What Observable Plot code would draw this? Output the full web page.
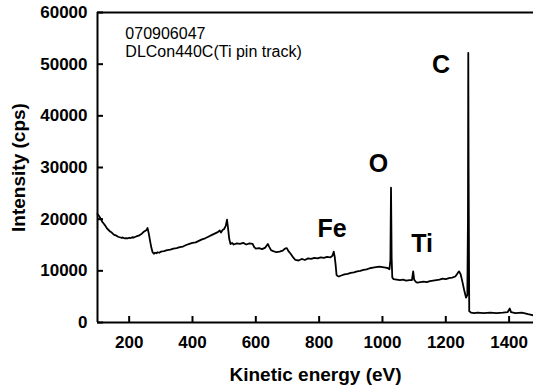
<!DOCTYPE html>
<html>
<head>
<meta charset="utf-8">
<script src="https://cdn.jsdelivr.net/npm/d3@7"></script>
<script src="https://cdn.jsdelivr.net/npm/@observablehq/plot@0.6"></script>
<style>
  html, body { margin: 0; padding: 0; background: #fff; }
</style>
</head>
<body>
<div id="chart"></div>
<script>
// Kinetic energy (eV)
const energy = [100,105,110,115,120,125,130,135,140,145,150,155,160,165,170,175,180,185,190,195,200,205,210,215,220,225,230,235,240,245,250,255,258,262,266,270,274,278,282,286,290,295,300,310,320,330,340,350,360,370,380,390,400,410,420,430,440,450,460,470,480,486,490,495,500,505,509,512,516,520,525,530,540,550,560,570,580,590,595,600,610,620,630,638,642,648,655,665,675,685,692,698,703,710,718,725,735,745,755,765,775,785,795,805,815,825,835,842,846,849,852,855,858,862,870,880,890,900,910,920,930,940,950,960,970,980,990,1000,1010,1018,1022,1025,1027,1029,1031,1035,1045,1055,1065,1075,1085,1093,1097,1100,1105,1110,1120,1130,1140,1150,1160,1170,1180,1190,1200,1210,1220,1230,1238,1242,1247,1252,1258,1264,1268,1270,1271,1272,1274,1280,1290,1300,1320,1340,1360,1380,1395,1402,1406,1420,1440,1460,1476];
// Intensity (cps)
const intensity = [21000,20600,20100,19500,19100,18700,18200,17900,17600,17400,17100,16900,16800,16600,16500,16400,16450,16300,16350,16300,16400,16350,16500,16450,16600,16700,16800,17000,17200,17500,17700,17900,18300,17200,15800,14500,13600,13300,13500,13400,13600,13500,13700,13800,14000,14100,14300,14400,14600,14700,15000,15200,15400,15500,15800,16100,16300,16600,16900,17200,17500,17800,17400,17900,18100,18700,19900,18400,16200,15200,15400,15100,15300,15200,15400,15100,15300,15200,14600,14300,14400,14200,14500,15200,14700,14000,13800,13600,13700,13900,14300,14400,13800,13300,12600,12100,12000,12300,12100,12400,12300,12500,12400,12600,12500,12700,12600,12900,13700,12800,11200,9200,9000,8900,9100,9300,9400,9600,9700,9900,10000,10200,10300,10500,10600,10700,10800,10700,10600,10500,10300,12000,26100,12500,8700,8400,8300,8200,8300,8100,8200,8200,9900,8300,7900,7700,7800,7900,7800,8000,8100,8200,8300,8500,8400,8600,8700,8900,9600,9900,9300,8000,6300,4800,5300,20000,52200,30000,2200,1900,1800,1900,1800,1900,1800,1900,2000,2700,2000,1800,1900,1600,1400];

const xTicks = [200,400,600,800,1000,1200,1400];
const yTicks = [0,10000,20000,30000,40000,50000,60000];

const noteLines = ["070906047", "DLCon440C(Ti pin track)"];
const noteX = [188, 188];
const noteY = [55900, 52300];

const peakNames = ["C", "O", "Fe", "Ti"];
const peakX = [1185, 987, 841, 1125];
const peakY = [49900, 30600, 18100, 15100];

const spectrum = energy.map((e, i) => ({e, v: intensity[i]}));
const notes = noteLines.map((t, i) => ({t, x: noteX[i], y: noteY[i]}));
const peaks = peakNames.map((t, i) => ({t, x: peakX[i], y: peakY[i]}));

const font = "'Liberation Sans', Arial, Helvetica, sans-serif";

const chart = Plot.plot({
  width: 533,
  height: 386,
  marginLeft: 97,
  marginRight: 0,
  marginTop: 12,
  marginBottom: 64,
  style: {fontFamily: font, background: "#fff", color: "#000", overflow: "visible"},
  x: {domain: [100, 1477]},
  y: {domain: [0, 60000]},
  marks: [
    Plot.ruleY([0], {stroke: "#000", strokeWidth: 2}),
    Plot.ruleY([60000], {stroke: "#000", strokeWidth: 2}),
    Plot.ruleX([100], {stroke: "#000", strokeWidth: 2}),
    Plot.axisX(xTicks, {tickSize: -6, tickPadding: 19, strokeWidth: 2, fontSize: 17, fontWeight: "bold", label: null, tickFormat: d => String(d)}),
    Plot.axisY(yTicks, {tickSize: -6, tickPadding: 16, strokeWidth: 2, fontSize: 17, fontWeight: "bold", label: null, tickFormat: d => String(d)}),
    Plot.axisX([], {label: "Kinetic energy (eV)", labelAnchor: "center", labelArrow: "none", labelOffset: 58, fontSize: 19, fontWeight: "bold"}),
    Plot.axisY([], {label: "Intensity (cps)", labelAnchor: "center", labelArrow: "none", labelOffset: 86, fontSize: 19, fontWeight: "bold"}),
    Plot.line(spectrum, {x: "e", y: "v", stroke: "#000", strokeWidth: 1.8}),
    Plot.text(notes, {x: "x", y: "y", text: "t", textAnchor: "start", fontSize: 16, fill: "#000"}),
    Plot.text(peaks, {x: "x", y: "y", text: "t", fontSize: 25, fontWeight: "bold", fill: "#000"})
  ]
});
document.getElementById("chart").appendChild(chart);
</script>
</body>
</html>
